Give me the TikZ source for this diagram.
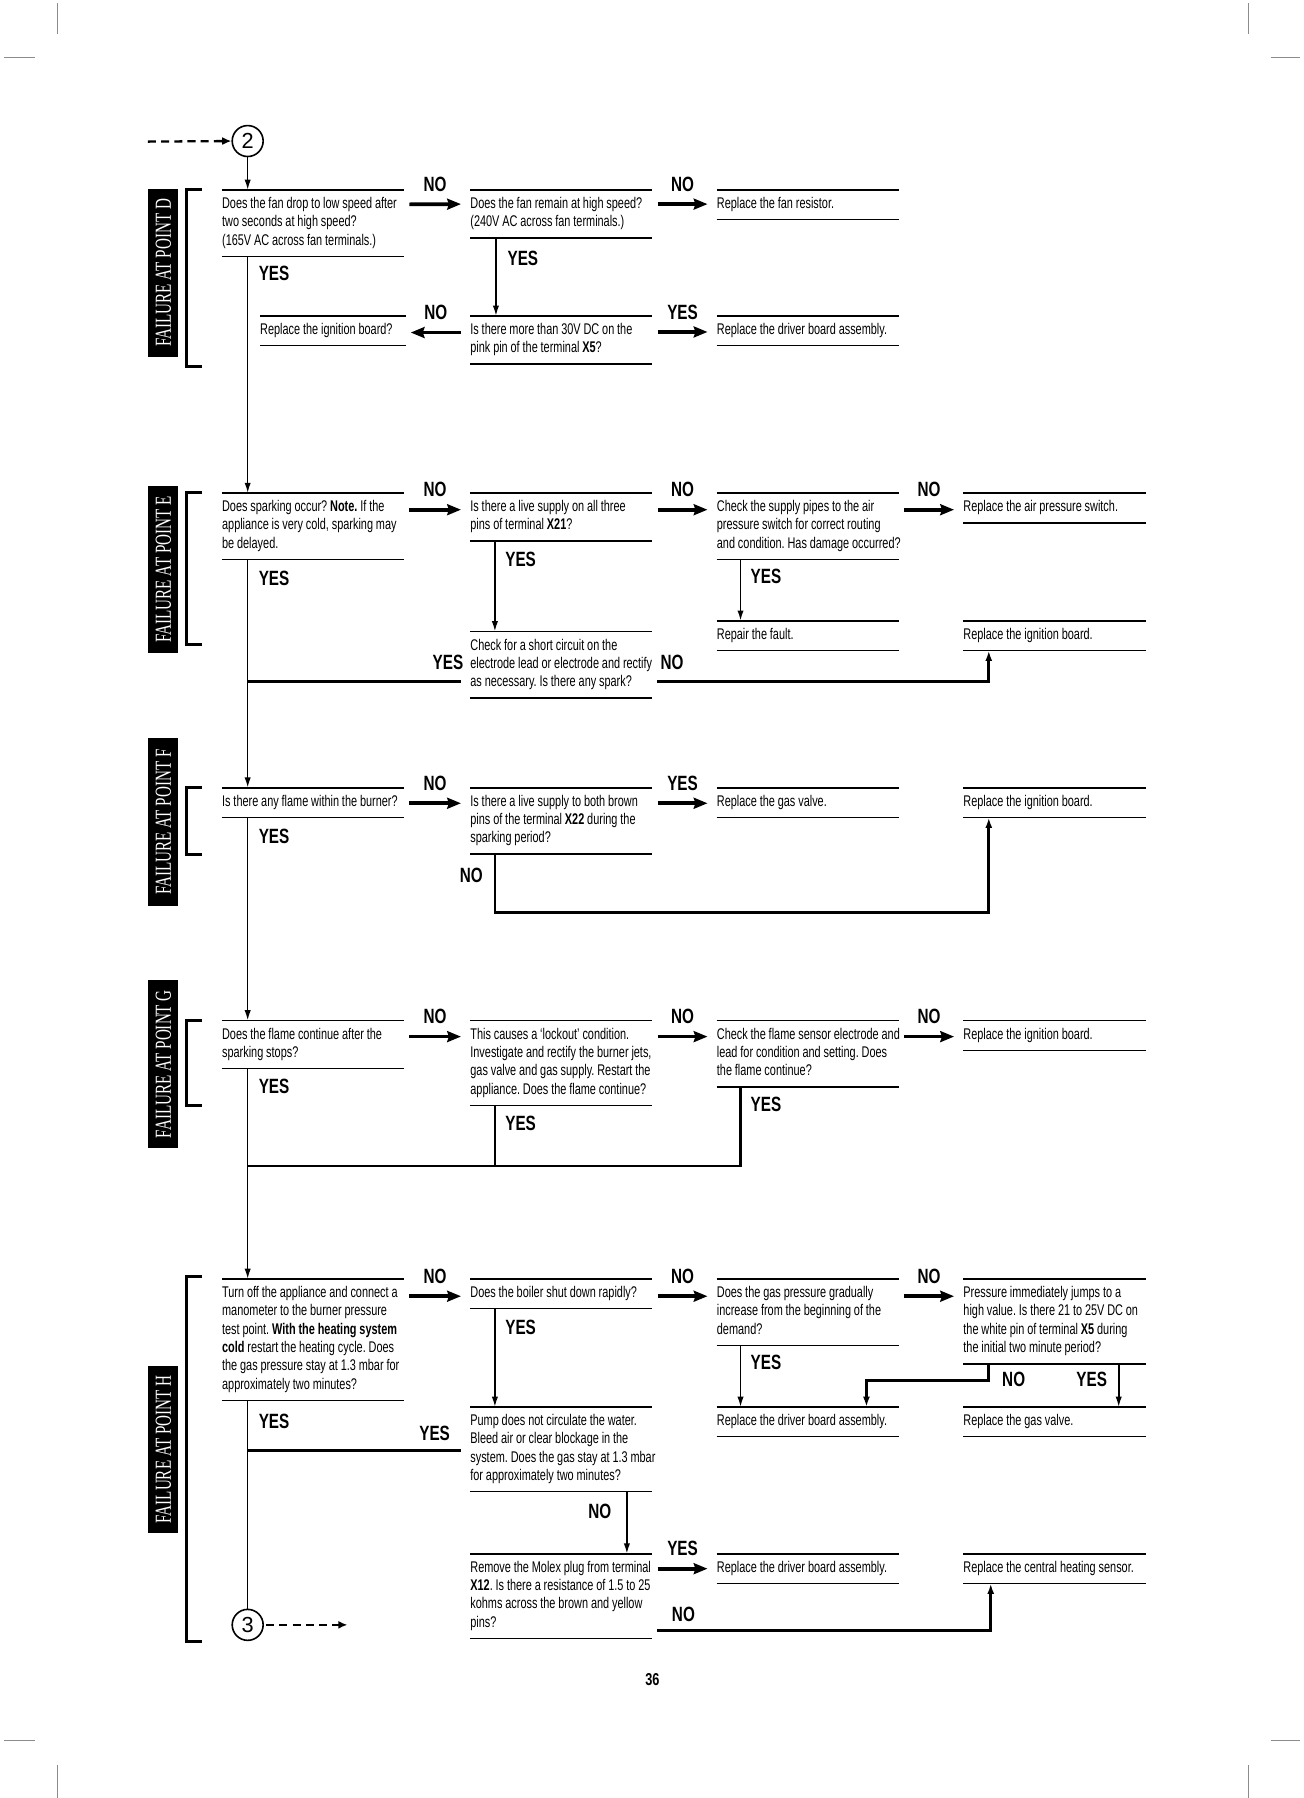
\documentclass[tikz,border=0pt]{standalone}
\usepackage{fontspec}
\usetikzlibrary{arrows.meta}
\newfontfamily\bodyfont[FakeStretch=0.705]{Liberation Sans}
\newfontfamily\labfont[FakeStretch=0.74]{Liberation Sans}
\newfontfamily\sidefont[FakeStretch=0.66]{Liberation Serif}
\newfontfamily\numfont{Liberation Sans}
\newcommand\boxrules[2]{\draw[boxrule] (#1.north west) -- ++(#2,0) (#1.south west) -- ++(#2,0);}
\newcommand\hconn[4]{\draw[harrow] ([shift={(163.5pt,-#4)}]#1.north west) -- node[lab, above=9.5pt] {#3} ([shift={(-8pt,-#4)}]#2.north west);}
\tikzset{
  qbox/.style={anchor=north west, inner xsep=0pt, inner ysep=4.75pt, text width=185pt, align=left,
    font=\bodyfont\fontsize{13.5}{16}\selectfont\frenchspacing,
    execute at begin node={\spaceskip=2.5pt plus 1pt minus 0.5pt\xspaceskip=\spaceskip\strut},
    execute at end node=\strut},
  boxrule/.style={line width=1.3pt},
  harrow/.style={line width=3.2pt, -{Stealth[length=12pt,width=9.5pt,inset=1.5pt]}},
  varrow/.style={line width=1.4pt, -{Latex[length=9pt,width=5.5pt]}},
  mline/.style={line width=1.4pt},
  rline/.style={line width=2.3pt},
  rarrow/.style={line width=2.3pt, -{Latex[length=9pt,width=6pt]}},
  lab/.style={font=\labfont\bfseries\fontsize{18}{18}\selectfont, inner sep=0pt},
  side/.style={rotate=90, fill=black, text=white, minimum width=146pt, minimum height=26pt, inner sep=0pt,
    font=\sidefont\fontsize{20}{20}\selectfont},
  brk/.style={line width=2.6pt},
  circ/.style={circle, draw, line width=1.4pt, minimum size=27pt, inner sep=0pt, font=\numfont\fontsize{19}{19}\selectfont},
  darrow/.style={line width=2pt, dash pattern=on 7pt off 4.5pt, -{Latex[length=8pt,width=7pt]}},
  cropmark/.style={line width=0.8pt, draw=black!45}
}
\begin{document}
\begin{tikzpicture}[x=1pt,y=-1pt]
\useasboundingbox (0,0) rectangle (1137,1568);
% crop marks
\draw[cropmark] (50.5,3) -- (50.5,30) (1089,3) -- (1089,30) (3.6,50) -- (30.5,50) (1108,50) -- (1134,50);
\draw[cropmark] (50.5,1539) -- (50.5,1568) (1089,1539) -- (1089,1568) (3.6,1518) -- (30.5,1518) (1108,1518) -- (1134,1518);

\node[circ] (c2) at (216,123) {2};
\node[circ] (c3) at (216,1417) {3};

% sidebars
\node[side] (sD) at (142.5,238) {FAILURE AT POINT D};
\node[side] (sE) at (142.5,496.5) {FAILURE AT POINT E};
\node[side] (sF) at (142.5,717) {FAILURE AT POINT F};
\node[side] (sG) at (142.5,928) {FAILURE AT POINT G};
\node[side] (sH) at (142.5,1264) {FAILURE AT POINT H};
\draw[brk] (176,165) -- (163,165) -- (163,320) -- (176,320);
\draw[brk] (176,429.5) -- (163,429.5) -- (163,562) -- (176,562);
\draw[brk] (176,687) -- (163,687) -- (163,745.5) -- (176,745.5);
\draw[brk] (176,890) -- (163,890) -- (163,964.5) -- (176,964.5);
\draw[brk] (176,1113.5) -- (163,1113.5) -- (163,1431.5) -- (176,1431.5);

% ---------- D ----------
\node[qbox] (D1) at (193.5,165.7) {Does the fan drop to low speed after\\two seconds at high speed?\\(165V AC across fan terminals.)};
\node[qbox] (D2) at (410,165.5) {Does the fan remain at high speed?\\(240V AC across fan terminals.)};
\node[qbox] (D3) at (625,165.5) {Replace the fan resistor.};
\node[qbox] (D4) at (410,275.5) {Is there more than 30V DC on the\\pink pin of the terminal \textbf{X5}?};
\node[qbox] (D5) at (226.7,275.5) {Replace the ignition board?};
\node[qbox] (D6) at (625,275.5) {Replace the driver board assembly.};
\boxrules{D1}{159}\boxrules{D2}{159}\boxrules{D3}{159}\boxrules{D4}{159}\boxrules{D5}{127}\boxrules{D6}{159}
\hconn{D1}{D2}{NO}{12.5pt}
\hconn{D2}{D3}{NO}{12.5pt}
\draw[harrow] ([shift={(-8pt,-14.5pt)}]D4.north west) -- node[lab, above=9.5pt] {NO} ([shift={(131.5pt,-14.5pt)}]D5.north west);
\hconn{D4}{D6}{YES}{14pt}
\draw[varrow] ([xshift=22.5pt]D2.south west) -- ([xshift=22.5pt]D4.north west);
\node[lab] at (456,225) {YES};

% ---------- E ----------
\node[qbox] (E1) at (193.5,430) {Does sparking occur? \textbf{Note.} If the\\appliance is very cold, sparking may\\be delayed.};
\node[qbox] (E2) at (410,430) {Is there a live supply on all three\\pins of terminal \textbf{X21}?};
\node[qbox] (E3) at (625,430) {Check the supply pipes to the air\\pressure switch for correct routing\\and condition. Has damage occurred?};
\node[qbox] (E4) at (840,430) {Replace the air pressure switch.};
\node[qbox] (E5) at (410,550.7) {Check for a short circuit on the\\electrode lead or electrode and rectify\\as necessary. Is there any spark?};
\node[qbox] (E7) at (625,541.4) {Repair the fault.};
\node[qbox] (E6) at (840,541.4) {Replace the ignition board.};
\boxrules{E1}{159}\boxrules{E2}{159}\boxrules{E3}{159}\boxrules{E4}{159}\boxrules{E5}{159}\boxrules{E6}{159}\boxrules{E7}{159}
\hconn{E1}{E2}{NO}{14.5pt}
\hconn{E2}{E3}{NO}{14.5pt}
\hconn{E3}{E4}{NO}{14.5pt}
\draw[varrow] ([xshift=21.6pt]E2.south west) -- ([xshift=21.6pt]E5.north west);
\node[lab] at (454,487.6) {YES};
\draw[varrow] ([xshift=20.8pt]E3.south west) -- ([xshift=20.8pt]E7.north west);
\node[lab] at (668,503) {YES};

% ---------- F ----------
\node[qbox] (F1) at (193.5,687) {Is there any flame within the burner?};
\node[qbox] (F2) at (410,687) {Is there a live supply to both brown\\pins of the terminal \textbf{X22} during the\\sparking period?};
\node[qbox] (F3) at (625,687) {Replace the gas valve.};
\node[qbox] (F4) at (840,687) {Replace the ignition board.};
\boxrules{F1}{159}\boxrules{F2}{159}\boxrules{F3}{159}\boxrules{F4}{159}
\hconn{F1}{F2}{NO}{13.5pt}
\hconn{F2}{F3}{YES}{13.5pt}
\draw[rarrow] ([xshift=21.6pt]F2.south west) -- ++(0,51) -| ([xshift=22.3pt]F4.south west);
\node[lab] at (411,763) {NO};

% ---------- G ----------
\node[qbox] (G1) at (193.5,890) {Does the flame continue after the\\sparking stops?};
\node[qbox] (G2) at (410,890) {This causes a ‘lockout’ condition.\\Investigate and rectify the burner jets,\\gas valve and gas supply. Restart the\\appliance. Does the flame continue?};
\node[qbox] (G3) at (625,890) {Check the flame sensor electrode and\\lead for condition and setting. Does\\the flame continue?};
\node[qbox] (G4) at (840,890) {Replace the ignition board.};
\boxrules{G1}{159}\boxrules{G2}{159}\boxrules{G3}{159}\boxrules{G4}{159}
\hconn{G1}{G2}{NO}{14pt}
\hconn{G2}{G3}{NO}{14pt}
\hconn{G3}{G4}{NO}{14pt}
\coordinate (g2b) at ([xshift=21.6pt]G2.south west);
\draw[rline] ([xshift=20.8pt]G3.south west) -- ++(0,68.8) coordinate (gj) -- (c2 |- gj);
\draw[rline] (g2b) -- (g2b |- gj);
\node[lab] at (454,979.4) {YES};
\node[lab] at (668,963.5) {YES};

% ---------- H ----------
\node[qbox] (H1) at (193.5,1115.4) {Turn off the appliance and connect a\\manometer to the burner pressure\\test point. \textbf{With the heating system}\\\textbf{cold} restart the heating cycle. Does\\the gas pressure stay at 1.3 mbar for\\approximately two minutes?};
\node[qbox] (H2) at (410,1115.4) {Does the boiler shut down rapidly?};
\node[qbox] (H3) at (625,1115.4) {Does the gas pressure gradually\\increase from the beginning of the\\demand?};
\node[qbox] (H4) at (840,1115.4) {Pressure immediately jumps to a\\high value. Is there 21 to 25V DC on\\the white pin of terminal \textbf{X5} during\\the initial two minute period?};
\node[qbox] (H5) at (625,1227) {Replace the driver board assembly.};
\node[qbox] (H6) at (840,1227) {Replace the gas valve.};
\node[qbox] (H7) at (410,1227) {Pump does not circulate the water.\\Bleed air or clear blockage in the\\system. Does the gas stay at 1.3 mbar\\for approximately two minutes?};
\node[qbox] (H8) at (410,1355) {Remove the Molex plug from terminal\\\textbf{X12}. Is there a resistance of 1.5 to 25\\kohms across the brown and yellow\\pins?};
\node[qbox] (H9) at (625,1355) {Replace the driver board assembly.};
\node[qbox] (H10) at (840,1355) {Replace the central heating sensor.};
\boxrules{H1}{159}\boxrules{H2}{159}\boxrules{H3}{159}\boxrules{H4}{159}\boxrules{H5}{159}
\boxrules{H6}{159}\boxrules{H7}{159}\boxrules{H8}{159}\boxrules{H9}{159}\boxrules{H10}{159}
\hconn{H1}{H2}{NO}{15pt}
\hconn{H2}{H3}{NO}{15pt}
\hconn{H3}{H4}{NO}{15pt}
\draw[varrow] ([xshift=21.6pt]H2.south west) -- ([xshift=21.6pt]H7.north west);
\node[lab] at (454,1158) {YES};
\draw[varrow] ([xshift=20.8pt]H3.south west) -- ([xshift=20.8pt]H5.north west);
\node[lab] at (668,1188.5) {YES};
\draw[rarrow] ([xshift=22.3pt]H4.south west) -- ++(0,14.5) -| ([xshift=130.6pt]H5.north west);
\node[lab] at (884,1202.6) {NO};
\draw[varrow] ([xshift=135.6pt]H4.south west) -- ([xshift=135.6pt]H6.north west);
\node[lab] at (952,1202.6) {YES};
\draw[varrow] ([xshift=136.7pt]H7.south west) -- ([xshift=136.7pt]H8.north west);
\node[lab] at (523,1318) {NO};
\hconn{H8}{H9}{YES}{13pt}
\draw[rarrow] ([shift={(163pt,-66.8pt)}]H8.north west) -| ([xshift=24pt]H10.south west);
\node[lab] at (596,1408) {NO};

% ---------- main line ----------
\coordinate (dA) at (129,123.5);
\coordinate (dB) at (303,1417);
\draw[darrow] (dA) -- (c2.west);
\draw[darrow] ([xshift=2pt]c3.east) -- (dB);
\draw[varrow] (c2.south) -- (c2 |- D1.north);
\draw[varrow] (c2 |- D1.south) -- (c2 |- E1.north);
\draw[varrow] (c2 |- E1.south) -- (c2 |- F1.north);
\draw[varrow] (c2 |- F1.south) -- (c2 |- G1.north);
\draw[varrow] (c2 |- G1.south) -- (c2 |- H1.north);
\draw[mline] (c2 |- H1.south) -- (c3.north);
\node[lab] at (239,238) {YES};
\node[lab] at (239,504) {YES};
\node[lab] at (239,729.5) {YES};
\node[lab] at (239,947) {YES};
\node[lab] at (239,1239.5) {YES};

% joins into main line
\draw[rline] ([shift={(-8pt,-43.6pt)}]E5.north west) coordinate (e5y) -- (c2 |- e5y);
\node[lab] at (390.7,578) {YES};
\draw[rarrow] ([shift={(163pt,-43.6pt)}]E5.north west) -| ([xshift=22.3pt]E6.south west);
\node[lab] at (586,578) {NO};
\draw[rline] ([shift={(-8pt,-38pt)}]H7.north west) coordinate (h7y) -- (c2 |- h7y);
\node[lab] at (379,1249.6) {YES};

\node[lab, font=\labfont\bfseries\fontsize{15}{15}\selectfont] (pg) at (569,1465) {36};
\end{tikzpicture}
\end{document}
